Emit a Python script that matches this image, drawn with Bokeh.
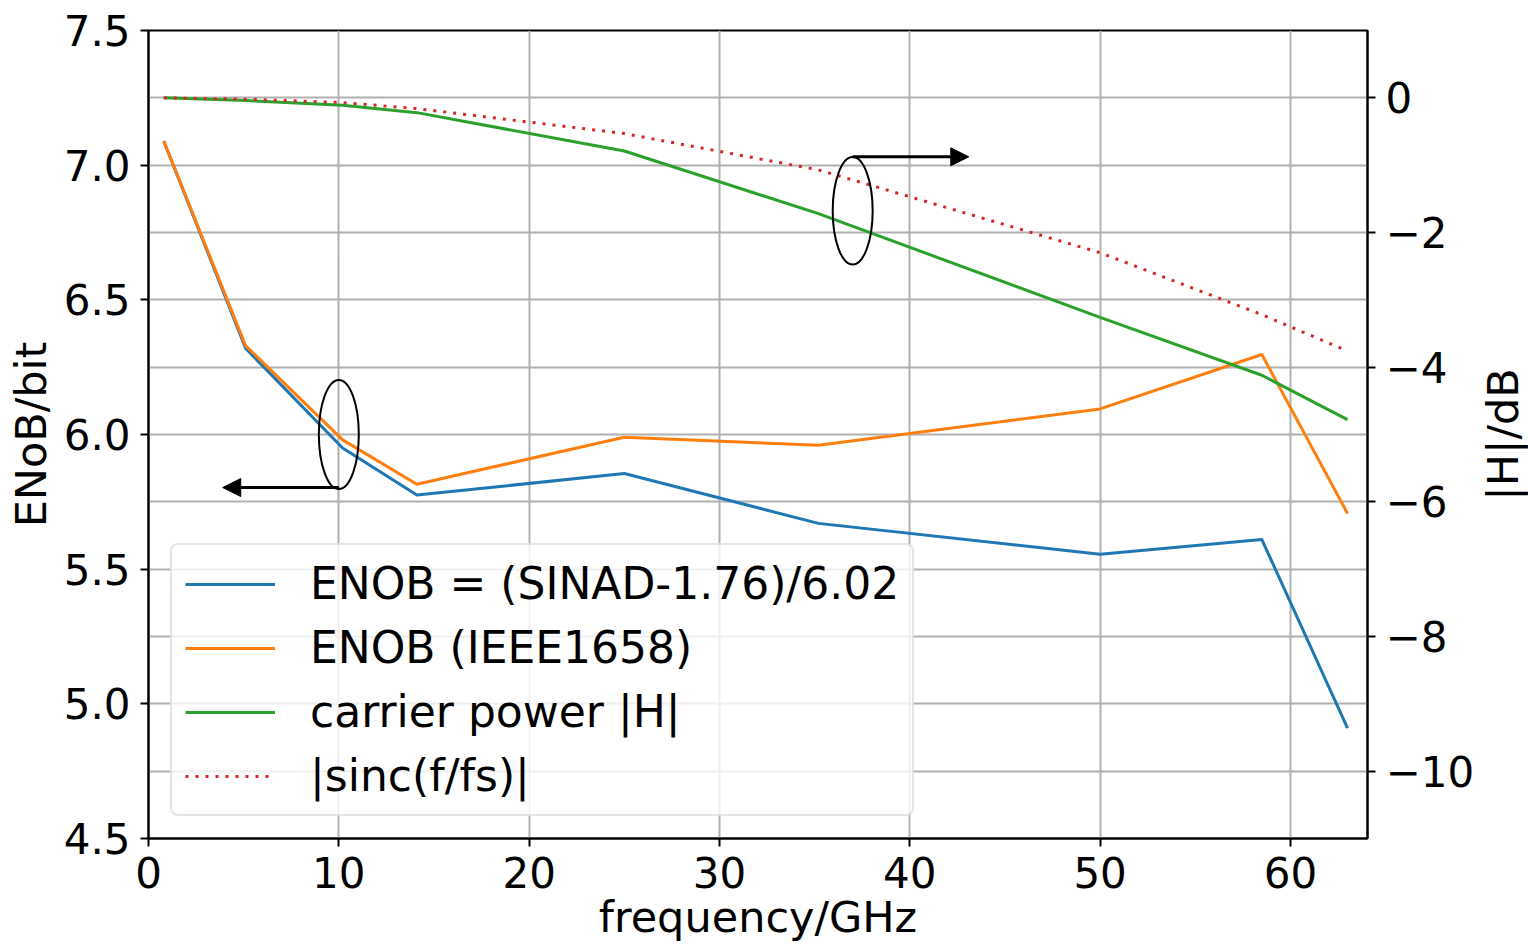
import math
from bokeh.plotting import figure
from bokeh.layouts import row
from bokeh.models import (Range1d, LinearAxis, SingleIntervalTicker, FixedTicker, Grid, Legend, LegendItem,
                          Arrow, NormalHead, NumeralTickFormatter, CustomJSTickFormatter)
from bokeh.embed import file_html
from bokeh.resources import INLINE

# ---------------- data ----------------
freq_ghz = [0.8, 5.1, 10.2, 14.1, 25.0, 35.2, 50.0, 58.5, 63.0]
enob_sinad = [7.09, 6.32, 5.95, 5.775, 5.855, 5.67, 5.555, 5.61, 4.91]
enob_ieee = [7.09, 6.33, 5.98, 5.815, 5.99, 5.96, 6.095, 6.297, 5.707]
carrier_db = [0.0, -0.04, -0.11, -0.22, -0.79, -1.72, -3.26, -4.12, -4.78]
sinc_db = [0.0, -0.02, -0.07, -0.16, -0.53, -1.07, -2.30, -3.22, -3.76]

series_labels = ["ENOB = (SINAD-1.76)/6.02", "ENOB (IEEE1658)", "carrier power |H|", "|sinc(f/fs)|"]
x_title = "frequency/GHz"
y_title = "ENoB/bit"
y2_title = "|H|/dB"

# annotation marks: ellipse (x, y, w, h) and arrow (x_start, x_end, y)
left_group_ellipse = [10.0, 6.0, 2.1, 0.405]
left_group_arrow = [10.0, 3.9, 5.803]
right_group_ellipse = [37.0, -1.678, 2.1, 1.6]
right_group_arrow = [37.0, 43.1, -0.876]

x_limits = [0, 64.05]
enob_limits = [4.5, 7.5]
db_limits = [-11, 1]

FONT = "DejaVu Sans"
TICK_FS = "42px"
LABEL_FS = "43px"
GRID = "#b0b0b0"

MAIN_W = 1479
TITLE_W = 1528 - MAIN_W
H = 944
B_TOP, B_BOTTOM = 30, 106

p = figure(width=MAIN_W, height=H,
           x_range=Range1d(*x_limits), y_range=Range1d(*enob_limits),
           output_backend="svg", toolbar_location=None,
           min_border_left=148, min_border_right=MAIN_W - 1367, min_border_top=B_TOP, min_border_bottom=B_BOTTOM,
           x_axis_label=x_title, y_axis_label=y_title)
p.extra_y_ranges = {"db": Range1d(*db_limits)}
p.background_fill_color = "white"
p.border_fill_color = "white"
p.outline_line_color = "black"
p.outline_line_width = 2

xt = SingleIntervalTicker(interval=10, num_minor_ticks=0)
yt = SingleIntervalTicker(interval=0.5, num_minor_ticks=0)
p.xaxis[0].ticker = xt
p.xgrid[0].ticker = xt
p.yaxis[0].ticker = yt
p.ygrid[0].ticker = yt
p.yaxis[0].formatter = NumeralTickFormatter(format="0.0")

ax_r = LinearAxis(y_range_name="db",
                  ticker=SingleIntervalTicker(interval=2, num_minor_ticks=0),
                  formatter=CustomJSTickFormatter(code="return tick < 0 ? '\u2212' + Math.abs(tick) : String(tick);"))
p.add_layout(ax_r, "right")
g_r = Grid(dimension=1, ticker=ax_r.ticker, y_range_name="db")
p.add_layout(g_r)

for gr in [p.xgrid[0], p.ygrid[0], g_r]:
    gr.grid_line_color = GRID
    gr.grid_line_width = 2

for ax in [p.xaxis[0], p.yaxis[0], ax_r]:
    ax.axis_line_color = "black"
    ax.axis_line_width = 2
    ax.major_tick_line_color = "black"
    ax.major_tick_line_width = 2
    ax.major_tick_out = 8
    ax.major_tick_in = 0
    ax.minor_tick_line_color = None
    ax.major_label_text_font = FONT
    ax.major_label_text_font_size = TICK_FS
    ax.major_label_text_color = "black"
    ax.axis_label_text_font = FONT
    ax.axis_label_text_font_size = LABEL_FS
    ax.axis_label_text_font_style = "normal"
    ax.axis_label_text_color = "black"

p.xaxis[0].major_label_standoff = 10
p.xaxis[0].axis_label_standoff = 1
p.yaxis[0].major_label_standoff = 10
p.yaxis[0].axis_label_standoff = 5
ax_r.major_label_standoff = 10

r1 = p.line(freq_ghz, enob_sinad, line_color="#1f77b4", line_width=3, line_join="round")
r2 = p.line(freq_ghz, enob_ieee, line_color="#ff7f0e", line_width=3, line_join="round")
r3 = p.line(freq_ghz, carrier_db, y_range_name="db", line_color="#2ca02c", line_width=3, line_join="round")
r4 = p.line(freq_ghz, sinc_db, y_range_name="db", line_color="#d62728", line_width=3, line_dash="3 7")

# ellipses and arrows
p.ellipse(x=[left_group_ellipse[0]], y=[left_group_ellipse[1]],
          width=left_group_ellipse[2], height=left_group_ellipse[3],
          fill_color=None, line_color="black", line_width=2)
p.ellipse(x=[right_group_ellipse[0]], y=[right_group_ellipse[1]],
          width=right_group_ellipse[2], height=right_group_ellipse[3],
          fill_color=None, line_color="black", line_width=2, y_range_name="db")
p.add_layout(Arrow(end=NormalHead(size=18, fill_color="black", line_color="black", line_width=1),
                   x_start=left_group_arrow[0], x_end=left_group_arrow[1],
                   y_start=left_group_arrow[2], y_end=left_group_arrow[2],
                   line_color="black", line_width=3))
p.add_layout(Arrow(end=NormalHead(size=18, fill_color="black", line_color="black", line_width=1),
                   x_start=right_group_arrow[0], x_end=right_group_arrow[1],
                   y_start=right_group_arrow[2], y_end=right_group_arrow[2],
                   line_color="black", line_width=3, y_range_name="db"))

legend = Legend(items=[LegendItem(label=series_labels[0], renderers=[r1]),
                       LegendItem(label=series_labels[1], renderers=[r2]),
                       LegendItem(label=series_labels[2], renderers=[r3]),
                       LegendItem(label=series_labels[3], renderers=[r4])],
                location=(22, 22))
legend.label_text_font = FONT
legend.label_text_font_size = "44px"
legend.label_text_color = "black"
legend.glyph_width = 90
legend.glyph_height = 40
legend.label_height = 40
legend.label_standoff = 35
legend.padding = 13
legend.spacing = 13
legend.margin = 0
legend.border_line_color = "#cccccc"
legend.border_line_width = 2
legend.background_fill_color = "white"
legend.background_fill_alpha = 0.8
if "border_radius" in Legend.properties():
    legend.border_radius = 8
p.add_layout(legend)

# narrow companion figure carrying the right-hand axis title (reads bottom-to-top)
p2 = figure(width=TITLE_W, height=H, x_range=Range1d(0, 1), y_range=Range1d(0, 1),
            output_backend="svg", toolbar_location=None, x_axis_location=None,
            min_border_left=TITLE_W - 1, min_border_right=0,
            min_border_top=B_TOP, min_border_bottom=B_BOTTOM, y_axis_label=y2_title)
p2.outline_line_color = None
p2.background_fill_color = "white"
p2.border_fill_color = "white"
p2.xgrid.visible = False
p2.ygrid.visible = False
ya2 = p2.yaxis[0]
ya2.ticker = FixedTicker(ticks=[])
ya2.axis_line_color = None
ya2.major_tick_line_color = None
ya2.minor_tick_line_color = None
ya2.major_tick_out = 0
ya2.major_label_text_font_size = "0px"
ya2.major_label_standoff = 0
ya2.axis_label_standoff = 1
ya2.axis_label_text_font = FONT
ya2.axis_label_text_font_size = LABEL_FS
ya2.axis_label_text_font_style = "normal"
ya2.axis_label_text_color = "black"

layout = row(p, p2, spacing=0)

open("out.html", "w").write(file_html(layout, INLINE))
